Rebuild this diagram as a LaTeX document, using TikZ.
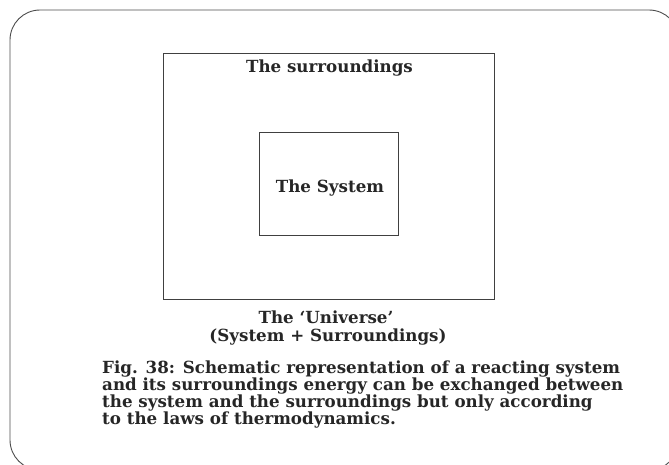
\documentclass[tikz,border=0pt]{standalone}
\usepackage{fontspec}
\setmainfont{DejaVu Serif}
\begin{document}
\begin{tikzpicture}[x=1pt,y=-1pt,
  lbl/.style={font=\bfseries\fontsize{16.7}{17}\selectfont, inner sep=0pt, text=black!85},
  boxst/.style={draw=black!75, line width=0.8pt, inner sep=0pt}]
\useasboundingbox (0,0) rectangle (669,464);
\clip (0,0) rectangle (669,464);
\draw[line width=0.9pt, black!70, rounded corners=30pt] (10,10) rectangle (679,470);
\node[boxst, minimum width=331pt, minimum height=246pt] (surr) at (328.5,176) {};
\node[boxst, minimum width=139pt, minimum height=103pt] (sys) at (328.5,183.5) {};
\node[lbl, anchor=base] (tsurr) at (329.5,72) {The surroundings};
\node[lbl, anchor=base] (tsys) at (330,192) {The System};
\node[lbl, anchor=base] (univ) at (326,323) {The `Universe'};
\node[lbl, anchor=base] (univ2) at (328,341) {(System + Surroundings)};
\node[lbl, anchor=base west] (c1) at (102,373) {Fig. 38: Schematic representation of a reacting system};
\node[lbl, anchor=base west] (c2) at (102,390) {and its surroundings energy can be exchanged between};
\node[lbl, anchor=base west] (c3) at (102,407) {the system and the surroundings but only according};
\node[lbl, anchor=base west] (c4) at (102,424) {to the laws of thermodynamics.};
\end{tikzpicture}
\end{document}
